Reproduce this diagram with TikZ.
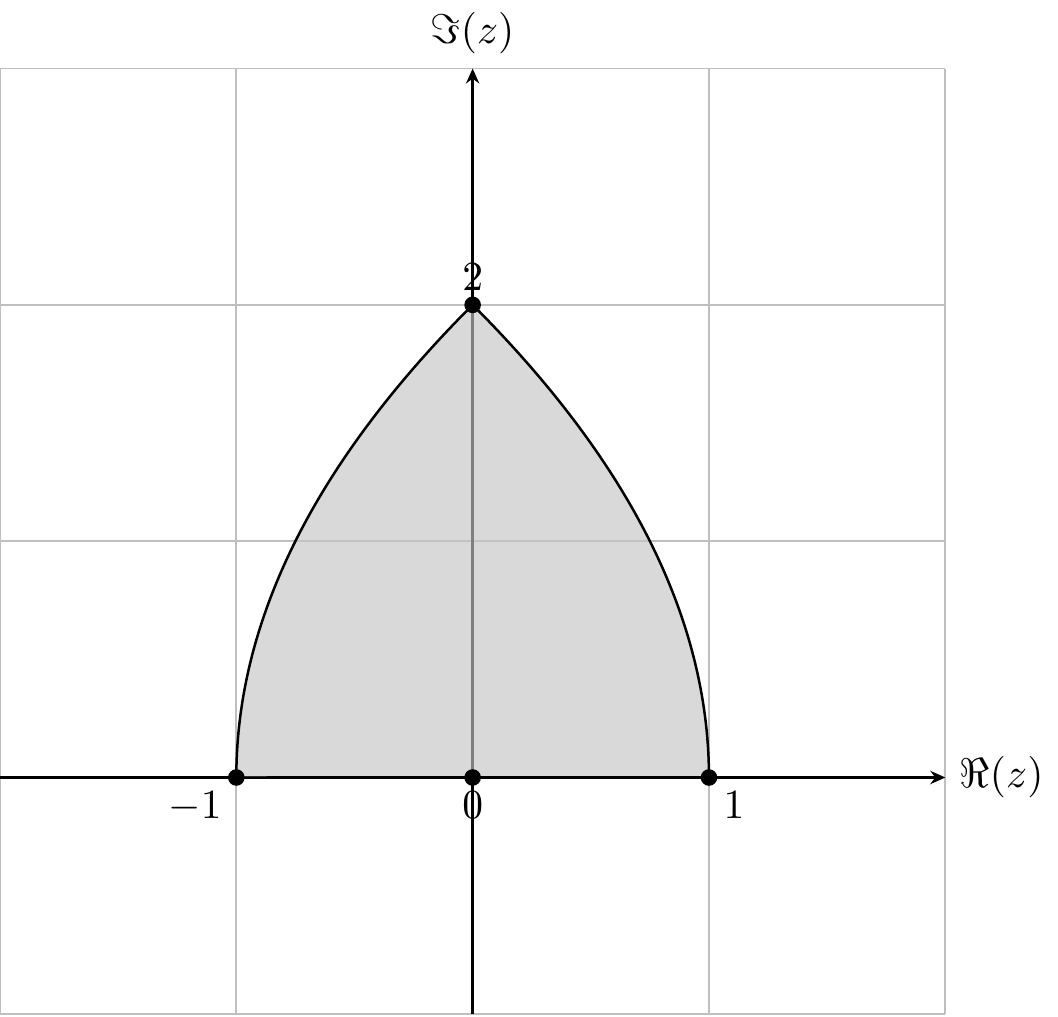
\documentclass[tikz,border=0pt]{standalone}
\usetikzlibrary{arrows.meta,positioning}
\tikzset{
  axisline/.style={-{Stealth[length=3.6pt,width=3.2pt]}, semithick},
  dot/.style={circle, fill=black, inner sep=0pt, minimum size=4pt},
}
\begin{document}
\begin{tikzpicture}[
    x=2cm, y=2cm,
    region/.style={fill=black!23, fill opacity=0.65, draw=black, semithick},
    gridline/.style={black!25, thin}
  ]
    \useasboundingbox (-2,-1.01) rectangle (2.477,3.29);
    \draw[gridline, step=2cm] (-2,-1) grid (2,3);
    % axes
    \coordinate (xl) at (-2,0);
    \coordinate (xr) at (2,0);
    \coordinate (yb) at (0,-1);
    \coordinate (yt) at (0,3);
    \draw[axisline] (xl)--(xr);
    \draw[axisline] (yb)--(yt);
    \node[right] (re) at (xr) {$\Re(z)$};
    \node[above] (im) at (yt) {$\Im(z)$};
    % shaded region
    \draw[region] plot[domain=0:2, samples=60, smooth] ({-(1-\x*\x/4)},\x)
      -- plot[domain=2:0, samples=60, smooth] ({1-\x*\x/4},\x) -- cycle;
    % points
    \node[dot] (m1)  at (-1,0) {};
    \node[dot] (o)   at (0,0)  {};
    \node[dot] (p1)  at (1,0)  {};
    \node[dot] (top) at (0,2)  {};
    \node[below left]  (lm1)  at (m1.center)  {$-1$};
    \node[below]       (lo)   at (o.center)   {$0$};
    \node[below right] (lp1)  at (p1.center)  {$1$};
    \node[above]       (ltop) at (top.center) {$2$};
  \end{tikzpicture}
\end{document}
